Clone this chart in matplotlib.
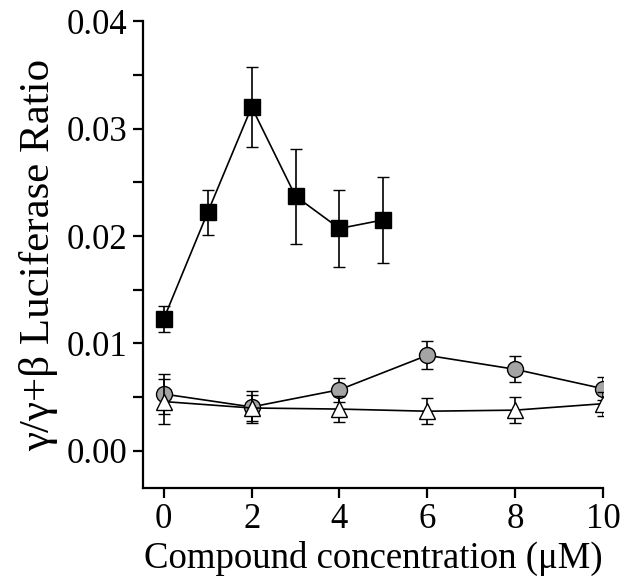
import matplotlib
matplotlib.use("Agg")
import matplotlib.pyplot as plt
from matplotlib.ticker import MultipleLocator

plt.rcParams['font.family'] = ['Liberation Serif', 'DejaVu Serif']

# Data
x_sq = [0, 1, 2, 3, 4, 5]
y_sq = [0.0123, 0.0222, 0.0320, 0.0237, 0.0207, 0.0215]
e_sq = [0.0012, 0.0021, 0.0037, 0.0044, 0.0036, 0.0040]

x_ci = [0, 2, 4, 6, 8, 10]
y_ci = [0.0053, 0.0041, 0.0057, 0.0089, 0.0076, 0.0058]
e_ci = [0.0019, 0.0015, 0.0011, 0.0013, 0.0012, 0.0011]

x_tr = [0, 2, 4, 6, 8, 10]
y_tr = [0.0046, 0.0040, 0.0039, 0.0037, 0.0038, 0.0044]
e_tr = [0.0021, 0.0012, 0.0012, 0.0012, 0.0012, 0.0011]

xticks = [0, 2, 4, 6, 8, 10]
yticks = [0.00, 0.01, 0.02, 0.03, 0.04]

fig = plt.figure(figsize=(6.24, 5.87), dpi=100)
ax = fig.add_axes([0.2287, 0.1687, 0.7376, 0.7955])

common = dict(color='black', ecolor='black', elinewidth=1.2, capsize=4.5,
              capthick=1.2, linewidth=1.2, markeredgecolor='black',
              markeredgewidth=1.0)
ax.errorbar(x_ci, y_ci, yerr=e_ci, marker='o', markersize=11.5,
            markerfacecolor='#a4a4a4', zorder=3, **common)
ax.errorbar(x_tr, y_tr, yerr=e_tr, marker='^', markersize=11,
            markerfacecolor='white', zorder=4, **common)
ax.errorbar(x_sq, y_sq, yerr=e_sq, marker='s', markersize=11,
            markerfacecolor='black', zorder=5, **common)

ax.set_xlim(-0.48, 10)
ax.set_ylim(-0.00344, 0.04)
ax.set_xticks(xticks)
ax.set_yticks(yticks)
ax.set_yticklabels([f"{v:.2f}" for v in yticks])
ax.yaxis.set_minor_locator(MultipleLocator(0.005))

for s in ['top', 'right']:
    ax.spines[s].set_visible(False)
for s in ['left', 'bottom']:
    ax.spines[s].set_linewidth(1.6)

ax.tick_params(axis='both', which='both', direction='out', length=7,
               width=1.6, labelsize=25, pad=4)

ax.set_xlabel("Compound concentration (μM)", fontsize=26.5, labelpad=3)
ax.set_ylabel("γ/γ+β Luciferase Ratio", fontsize=31, labelpad=6)

fig.savefig("out.png", dpi=100)
